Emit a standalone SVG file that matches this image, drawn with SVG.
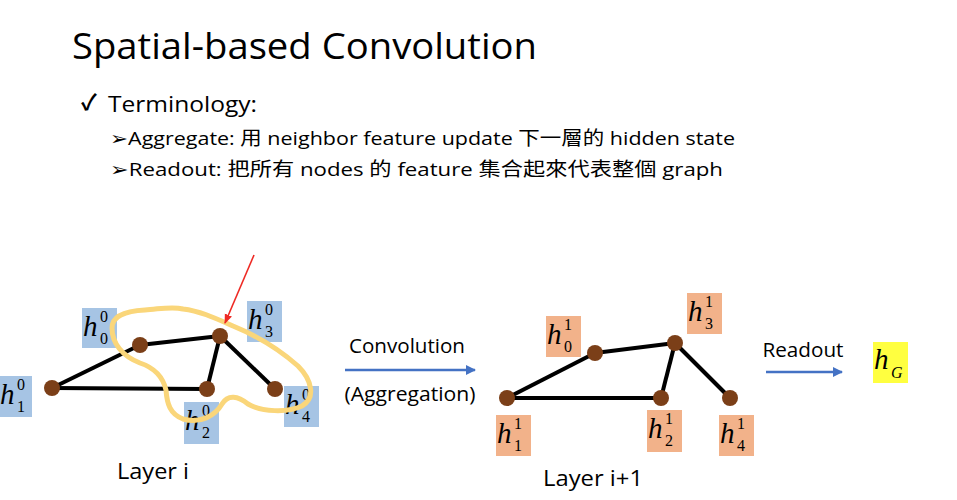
<svg xmlns="http://www.w3.org/2000/svg" width="957" height="500" viewBox="0 0 957 500">
<defs>
<marker id="ab" viewBox="0 0 10 10" refX="9" refY="5" markerWidth="4" markerHeight="4" orient="auto"><path d="M0,0 L10,5 L0,10 z" fill="#4472c4"/></marker>
<marker id="ar" viewBox="0 0 10 10" refX="9" refY="5" markerWidth="6" markerHeight="6" orient="auto"><path d="M0,1 L10,5 L0,9 z" fill="#ee2a24"/></marker>
<style>
.t{font-family:"Open Sans","Liberation Sans","Noto Sans CJK TC",sans-serif;fill:#000}
.m{font-family:"Liberation Serif","DejaVu Serif",serif;font-style:italic;font-size:29px;fill:#000}
.s{font-family:"Liberation Serif","DejaVu Serif",serif;font-size:16px;fill:#000}
.bb{fill:#a6c4e4}
.ob{fill:#f2b28a}
.e{stroke:#000;stroke-width:4;fill:none}
.n{fill:#7b3f18}
</style>
</defs>
<rect width="957" height="500" fill="#fff"/>
<text class="t" x="72" y="59" font-size="36" textLength="465" lengthAdjust="spacingAndGlyphs">Spatial-based Convolution</text>
<text class="t" x="81" y="110" font-size="22" font-weight="bold">✓</text>
<text class="t" x="108" y="112" font-size="22" textLength="149" lengthAdjust="spacingAndGlyphs">Terminology:</text>
<text class="t" x="110" y="145" font-size="19" textLength="625" lengthAdjust="spacingAndGlyphs">➢Aggregate: 用 neighbor feature update 下一層的 hidden state</text>
<text class="t" x="110" y="176" font-size="19" textLength="613" lengthAdjust="spacingAndGlyphs">➢Readout: 把所有 nodes 的 feature 集合起來代表整個 graph</text>

<g id="connectors">
<line class="e" x1="52" y1="388" x2="140" y2="345"/>
<line class="e" x1="140" y1="345" x2="220" y2="336"/>
<line class="e" x1="52" y1="388" x2="207" y2="389"/>
<line class="e" x1="207" y1="389" x2="220" y2="336"/>
<line class="e" x1="220" y1="336" x2="275" y2="389"/>
<line class="e" x1="507" y1="398" x2="595" y2="353"/>
<line class="e" x1="595" y1="353" x2="675" y2="343"/>
<line class="e" x1="507" y1="398" x2="661" y2="398"/>
<line class="e" x1="661" y1="398" x2="675" y2="343"/>
<line class="e" x1="675" y1="343" x2="730" y2="398"/>
<line x1="345" y1="370" x2="475" y2="370" stroke="#4472c4" stroke-width="2.5" marker-end="url(#ab)"/>
<line x1="766" y1="372" x2="842" y2="372" stroke="#4472c4" stroke-width="2.5" marker-end="url(#ab)"/>
</g>

<g id="layer-i">
<g id="n0a"><circle class="n" cx="140" cy="345" r="8"/><rect class="bb" x="82" y="308" width="35" height="40"/><text class="m" x="83" y="336">h</text><text class="s" x="100" y="322">0</text><text class="s" x="100" y="344">0</text></g>
<g id="n1a"><circle class="n" cx="52" cy="388" r="8"/><rect class="bb" x="-3" y="376" width="35" height="41"/><text class="m" x="0" y="404">h</text><text class="s" x="17" y="390">0</text><text class="s" x="17" y="412">1</text></g>
<g id="n2a"><circle class="n" cx="207" cy="389" r="8"/><rect class="bb" x="184" y="402" width="35" height="42"/><text class="m" x="185" y="430">h</text><text class="s" x="202" y="416">0</text><text class="s" x="202" y="438">2</text></g>
<g id="n3a"><circle class="n" cx="220" cy="336" r="8"/><rect class="bb" x="247" y="301" width="35" height="41"/><text class="m" x="248" y="329">h</text><text class="s" x="265" y="315">0</text><text class="s" x="265" y="337">3</text></g>
<g id="n4a"><circle class="n" cx="275" cy="389" r="8"/><rect class="bb" x="284" y="386" width="35" height="41"/><text class="m" x="285" y="414">h</text><text class="s" x="302" y="400">0</text><text class="s" x="302" y="422">4</text></g>
<path id="loop" d="M183,309 C200,311 215,318 233,326 C255,335 280,350 298,366 C312,380 316,398 302,406 C287,413 262,412 248,404 C238,396 228,394 222,404 C215,416 200,424 183,419 C170,414 167,404 166,390 C163,377 155,368 140,363 C122,356 112,343 112,328 C112,316 125,311 145,310 C160,309 172,306 183,309 Z" fill="none" stroke="#fad67a" stroke-width="5" stroke-linejoin="round"/>
<line x1="254" y1="255" x2="225" y2="323" stroke="#ee2a24" stroke-width="1.6" marker-end="url(#ar)"/>
<text class="t" x="153" y="479" font-size="22" text-anchor="middle" textLength="72" lengthAdjust="spacingAndGlyphs">Layer i</text>
</g>

<text class="t" x="407" y="353" font-size="20" text-anchor="middle" textLength="116" lengthAdjust="spacingAndGlyphs">Convolution</text>
<text class="t" x="410" y="401" font-size="20" text-anchor="middle" textLength="131" lengthAdjust="spacingAndGlyphs">(Aggregation)</text>

<g id="layer-i1">
<g id="n0b"><circle class="n" cx="595" cy="353" r="8"/><rect class="ob" x="546" y="316" width="35" height="41"/><text class="m" x="547" y="344">h</text><text class="s" x="564" y="330">1</text><text class="s" x="564" y="352">0</text></g>
<g id="n1b"><circle class="n" cx="507" cy="398" r="8"/><rect class="ob" x="496" y="415" width="35" height="41"/><text class="m" x="497" y="443">h</text><text class="s" x="514" y="429">1</text><text class="s" x="514" y="451">1</text></g>
<g id="n2b"><circle class="n" cx="661" cy="398" r="8"/><rect class="ob" x="647" y="410" width="35" height="42"/><text class="m" x="648" y="438">h</text><text class="s" x="665" y="424">1</text><text class="s" x="665" y="446">2</text></g>
<g id="n3b"><circle class="n" cx="675" cy="343" r="8"/><rect class="ob" x="687" y="293" width="35" height="41"/><text class="m" x="688" y="321">h</text><text class="s" x="705" y="307">1</text><text class="s" x="705" y="329">3</text></g>
<g id="n4b"><circle class="n" cx="730" cy="398" r="8"/><rect class="ob" x="719" y="415" width="35" height="41"/><text class="m" x="720" y="443">h</text><text class="s" x="737" y="429">1</text><text class="s" x="737" y="451">4</text></g>
<text class="t" x="593" y="486" font-size="22" text-anchor="middle" textLength="100" lengthAdjust="spacingAndGlyphs">Layer i+1</text>
</g>

<text class="t" x="803" y="357" font-size="20" text-anchor="middle" textLength="81" lengthAdjust="spacingAndGlyphs">Readout</text>
<g id="hG"><rect x="873" y="342" width="35" height="41" fill="#ffff40"/><text class="m" x="874" y="369">h</text><text class="s" x="891" y="378" font-style="italic">G</text></g>
</svg>
